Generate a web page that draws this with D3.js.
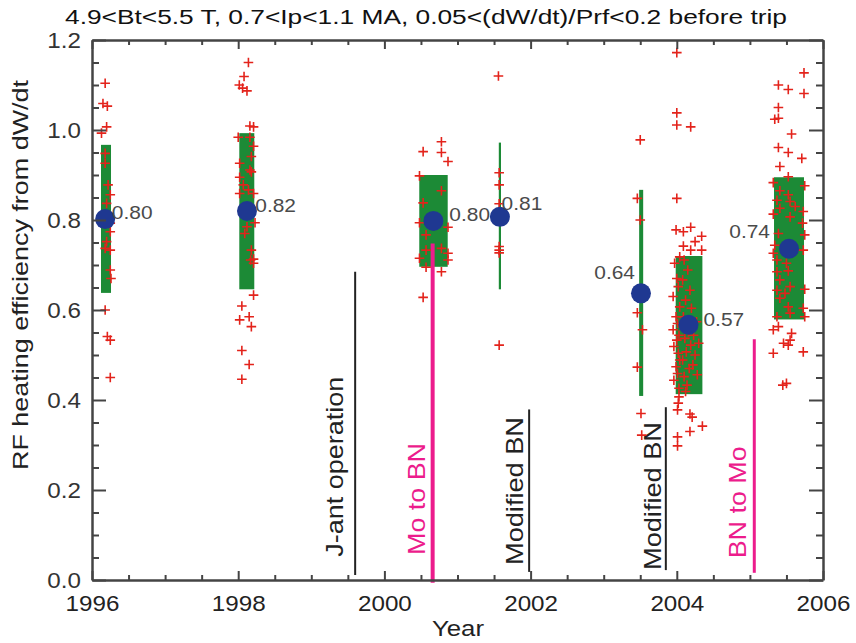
<!DOCTYPE html>
<html><head><meta charset="utf-8">
<script src="https://cdn.jsdelivr.net/npm/d3@7"></script>
<style>body{margin:0;background:#fff}svg{display:block}text{font-family:"Liberation Sans",Arial,sans-serif}</style>
</head><body><svg id="c" width="856" height="643"></svg>
<script>
// ---- data ----
const titleText = "4.9<Bt<5.5 T, 0.7<Ip<1.1 MA, 0.05<(dW/dt)/Prf<0.2 before trip";
const xLabel = "Year";
const yLabel = "RF heating efficiency from dW/dt";
const xTickLabels = [1996, 1998, 2000, 2002, 2004, 2006];
const yTickLabels = [0.0, 0.2, 0.4, 0.6, 0.8, 1.0, 1.2];

const groupYear = [1996.18, 1998.12, 2000.67, 2001.58, 2003.51, 2004.16, 2005.535];
const groupMean = [0.802, 0.820, 0.798, 0.807, 0.637, 0.567, 0.736];
const groupStart = [1996.123, 1998.015, 2000.477, 2001.565, 2003.485, 2003.985, 2005.33];
const groupEnd   = [1996.26, 1998.22, 2000.866, 2001.595, 2003.54, 2004.35, 2005.74];
const groupLow  = [0.638, 0.646, 0.696, 0.646, 0.409, 0.413, 0.579];
const groupHigh = [0.967, 0.993, 0.900, 0.972, 0.867, 0.720, 0.895];

const pts1996 = [[1996.18,1.104],[1996.15,1.059],[1996.21,1.053],[1996.20,1.007],[1996.13,0.993],[1996.18,0.948],[1996.18,0.926],[1996.22,0.878],[1996.25,0.856],[1996.20,0.837],[1996.25,0.793],[1996.25,0.774],[1996.20,0.752],[1996.18,0.737],[1996.25,0.733],[1996.25,0.689],[1996.26,0.670],[1996.18,0.600],[1996.21,0.541],[1996.25,0.533],[1996.25,0.450]];
const pts1998 = [[1998.14,1.150],[1998.08,1.119],[1998.015,1.100],[1998.06,1.093],[1998.12,1.087],[1998.16,1.009],[1998.21,1.007],[1998.00,0.984],[1998.16,0.984],[1998.21,0.964],[1998.18,0.941],[1998.02,0.926],[1998.16,0.911],[1998.18,0.907],[1998.02,0.895],[1998.07,0.878],[1998.02,0.859],[1998.14,0.867],[1998.21,0.859],[1998.23,0.794],[1998.12,0.785],[1998.09,0.770],[1998.18,0.733],[1998.21,0.713],[1998.17,0.711],[1998.21,0.704],[1998.21,0.633],[1998.05,0.609],[1998.15,0.585],[1998.02,0.578],[1998.18,0.563],[1998.05,0.510],[1998.15,0.479],[1998.05,0.446]];
const pts2000 = [[2000.78,0.974],[2000.53,0.952],[2000.78,0.950],[2000.87,0.930],[2000.48,0.898],[2000.78,0.865],[2000.53,0.838],[2000.48,0.794],[2000.87,0.784],[2000.57,0.767],[2000.57,0.733],[2000.78,0.737],[2000.87,0.726],[2000.48,0.715],[2000.87,0.711],[2000.57,0.695],[2000.78,0.685],[2000.53,0.628]];
const pts2001 = [[2001.56,1.120],[2001.57,0.905],[2001.57,0.878],[2001.57,0.836],[2001.57,0.741],[2001.57,0.733],[2001.57,0.727],[2001.57,0.522]];
const pts2003 = [[2003.50,0.978],[2003.46,0.848],[2003.50,0.800],[2003.46,0.594],[2003.53,0.556],[2003.46,0.473],[2003.51,0.370],[2003.52,0.322]];
const pts2004 = [[2004.00,1.172],[2004.00,1.038],[2004.00,1.011],[2004.19,1.007],[2004.00,0.848],[2003.99,0.778],[2004.19,0.784],[2004.09,0.774],[2004.34,0.764],[2004.25,0.752],[2004.09,0.742],[2004.19,0.733],[2004.34,0.733],[2004.04,0.718],
 [2003.97,0.704],[2004.00,0.670],[2004.02,0.652],[2003.95,0.630],[2004.04,0.607],[2003.99,0.585],[2004.01,0.570],[2003.95,0.556],[2004.03,0.544],[2004.00,0.533],[2003.96,0.519],[2004.02,0.504],[2004.04,0.489],[2003.99,0.474],[2004.01,0.459],[2003.96,0.444],[2004.03,0.426],
 [2004.10,0.711],[2004.15,0.689],[2004.08,0.667],[2004.18,0.644],[2004.12,0.622],[2004.20,0.604],[2004.09,0.585],[2004.16,0.552],[2004.11,0.537],[2004.19,0.522],[2004.13,0.507],[2004.08,0.489],[2004.17,0.470],[2004.10,0.452],[2004.14,0.433],[2004.12,0.419],
 [2004.27,0.574],[2004.23,0.544],[2004.30,0.526],[2004.25,0.500],[2004.22,0.478],[2004.28,0.456],
 [2004.03,0.407],[2004.02,0.393],[2004.01,0.378],[2004.18,0.369],[2004.21,0.362],[2004.35,0.342],[2004.18,0.330],[2004.01,0.318],[2004.01,0.298]];
const pts2005 = [[2005.74,1.127],[2005.39,1.100],[2005.525,1.090],[2005.74,1.081],[2005.39,1.050],[2005.34,1.024],[2005.39,1.026],[2005.57,0.991],[2005.39,0.961],[2005.525,0.950],[2005.71,0.937],[2005.41,0.919],[2005.32,0.883],[2005.525,0.896],[2005.75,0.876],[2005.41,0.865],[2005.525,0.856],[2005.37,0.844],[2005.55,0.841],[2005.62,0.830],[2005.41,0.826],[2005.73,0.819],[2005.32,0.813],[2005.55,0.807],[2005.72,0.793],[2005.39,0.770],[2005.75,0.767],[2005.34,0.744],[2005.73,0.733],[2005.32,0.726],[2005.37,0.711],[2005.50,0.704],[2005.37,0.685],[2005.525,0.687],[2005.41,0.667],[2005.55,0.652],[2005.75,0.646],[2005.37,0.644],[2005.48,0.637],[2005.41,0.626],[2005.525,0.607],[2005.73,0.604],[2005.37,0.585],[2005.55,0.593],[2005.75,0.585],[2005.39,0.563],[2005.32,0.556],[2005.57,0.548],[2005.46,0.526],[2005.525,0.522],[2005.55,0.533],[2005.32,0.504],[2005.73,0.507],[2005.45,0.433],[2005.50,0.437]];

const annotYear = [1999.60, 2000.66, 2001.98, 2003.85, 2005.06];
const annotTop = [0.685, 0.748, 0.379, 0.384, 0.535];
const annotBottom = [0.011, -0.006, 0.018, 0.022, 0.016];
const annotText = ["J-ant operation", "Mo to BN", "Modified BN", "Modified BN", "BN to Mo"];

// ---- layout / style ----
const BLACK = "#222", MAGENTA = "#ec1c8c", GREEN = "#1c8a36", BLUE = "#1f3891", RED = "#e3231b";
const annotColor = [BLACK, MAGENTA, BLACK, BLACK, MAGENTA];
const annotWidth = [2, 4, 2, 2, 3];
const annotTextDx = [-12, -8, -6.3, -4.5, -7.8];
const annotTextStartY = [556.7, 555, 565, 570, 558.3];
const annotTextLen = [180, 112, 148, 148, 112];
const labelOffsets = [[6.7,0.2,"start"],[8.3,0.7,"start"],[16,-0.3,"start"],[1.7,-6.7,"start"],[-6,-14,"end"],[15,1,"start"],[-19,-11,"end"]];

const svg = d3.select("#c");
const x = d3.scaleLinear().domain([1996, 2006]).range([92, 823]);
const y = d3.scaleLinear().domain([0, 1.2]).range([580, 40]);

function stretch(sel, f) {
  sel.each(function () {
    const L = this.getComputedTextLength();
    this.setAttribute("textLength", L * f);
    this.setAttribute("lengthAdjust", "spacingAndGlyphs");
  });
}

// bars
const gBars = svg.append("g");
groupYear.forEach((g, i) => {
  gBars.append("rect")
    .attr("x", x(groupStart[i])).attr("width", x(groupEnd[i]) - x(groupStart[i]))
    .attr("y", y(groupHigh[i])).attr("height", y(groupLow[i]) - y(groupHigh[i]))
    .attr("fill", GREEN);
});

// annotation lines + texts
annotYear.forEach((a, i) => {
  svg.append("line")
    .attr("x1", x(a)).attr("x2", x(a))
    .attr("y1", y(annotTop[i])).attr("y2", y(annotBottom[i]))
    .attr("stroke", annotColor[i]).attr("stroke-width", annotWidth[i]);
  const tx = x(a) + annotTextDx[i], ty = annotTextStartY[i];
  svg.append("text")
    .attr("transform", `translate(${tx},${ty}) rotate(-90)`)
    .attr("font-size", 24).attr("fill", annotColor[i])
    .attr("textLength", annotTextLen[i]).attr("lengthAdjust", "spacingAndGlyphs")
    .text(annotText[i]);
});

// points
const allPts = [pts1996, pts1998, pts2000, pts2001, pts2003, pts2004, pts2005];
const gPts = svg.append("g").attr("stroke", RED).attr("stroke-width", 1.6).attr("fill", "none");
allPts.forEach(arr => {
  arr.forEach(p => {
    const cx = x(p[0]), cy = y(p[1]);
    gPts.append("path").attr("d", `M${cx - 4.8},${cy}H${cx + 4.8}M${cx},${cy - 4.8}V${cy + 4.8}`);
  });
});

// means
groupYear.forEach((g, i) => {
  svg.append("circle").attr("cx", x(g)).attr("cy", y(groupMean[i])).attr("r", 10).attr("fill", BLUE);
});
const vl = svg.append("g");
groupYear.forEach((g, i) => {
  const o = labelOffsets[i];
  vl.append("text").attr("x", x(g) + o[0]).attr("y", y(groupMean[i]) + o[1])
    .attr("text-anchor", o[2]).attr("font-size", 18.5).attr("fill", "#4a4a4a")
    .text(groupMean[i].toFixed(2));
});
stretch(vl.selectAll("text"), 1.13);

// axes
const minorX = d3.range(1996, 2006.01, 0.5).filter(v => Math.abs(v % 2) > 1e-6 && Math.abs((v % 2) - 2) > 1e-6);
const minorY = d3.range(0, 1.2001, 0.05).map(v => +v.toFixed(2)).filter(v => Math.round(v * 100) % 20 !== 0);
const axColor = "#444";

function styleAxis(g) {
  g.selectAll(".domain").attr("stroke", axColor).attr("stroke-width", 2.5);
  g.selectAll(".tick line").attr("stroke", axColor).attr("stroke-width", 2);
}
const axBottom = svg.append("g").attr("transform", "translate(0,580)")
  .call(d3.axisBottom(x).tickValues(xTickLabels).tickSize(-9).tickSizeOuter(0).tickPadding(15).tickFormat(d3.format("d")));
styleAxis(axBottom);
axBottom.selectAll("text").attr("font-size", 22).attr("fill", "#222").attr("font-family", '"Liberation Sans",Arial,sans-serif');
stretch(axBottom.selectAll("text"), 1.1);
const axBottomMinor = svg.append("g").attr("transform", "translate(0,580)")
  .call(d3.axisBottom(x).tickValues(minorX).tickSize(-5).tickFormat(""));
axBottomMinor.select(".domain").remove(); styleAxis(axBottomMinor);

const axTop = svg.append("g").attr("transform", "translate(0,40)")
  .call(d3.axisTop(x).tickValues(xTickLabels).tickSize(-9).tickSizeOuter(0).tickFormat(""));
styleAxis(axTop);
const axTopMinor = svg.append("g").attr("transform", "translate(0,40)")
  .call(d3.axisTop(x).tickValues(minorX).tickSize(-5).tickFormat(""));
axTopMinor.select(".domain").remove(); styleAxis(axTopMinor);

const axLeft = svg.append("g").attr("transform", "translate(92,0)")
  .call(d3.axisLeft(y).tickValues(yTickLabels).tickSize(-14).tickSizeOuter(0).tickPadding(11).tickFormat(d3.format(".1f")));
styleAxis(axLeft);
axLeft.selectAll("text").attr("font-size", 22).attr("fill", "#333").attr("font-family", '"Liberation Sans",Arial,sans-serif');
stretch(axLeft.selectAll("text"), 1.1);
const axLeftMinor = svg.append("g").attr("transform", "translate(92,0)")
  .call(d3.axisLeft(y).tickValues(minorY).tickSize(-7).tickFormat(""));
axLeftMinor.select(".domain").remove(); styleAxis(axLeftMinor);

const axRight = svg.append("g").attr("transform", "translate(823,0)")
  .call(d3.axisRight(y).tickValues(yTickLabels).tickSize(-14).tickSizeOuter(0).tickFormat(""));
styleAxis(axRight);
const axRightMinor = svg.append("g").attr("transform", "translate(823,0)")
  .call(d3.axisRight(y).tickValues(minorY).tickSize(-7).tickFormat(""));
axRightMinor.select(".domain").remove(); styleAxis(axRightMinor);

// titles
svg.append("text").attr("x", 426).attr("y", 24).attr("text-anchor", "middle")
  .attr("font-size", 20).attr("fill", "#111")
  .attr("textLength", 722).attr("lengthAdjust", "spacingAndGlyphs").text(titleText);
svg.append("text").attr("x", 458).attr("y", 636).attr("text-anchor", "middle")
  .attr("font-size", 22).attr("fill", "#222").attr("textLength", 52).attr("lengthAdjust", "spacingAndGlyphs").text(xLabel);
svg.append("text").attr("transform", "translate(28,275) rotate(-90)").attr("text-anchor", "middle")
  .attr("font-size", 22).attr("fill", "#222").attr("textLength", 390).attr("lengthAdjust", "spacingAndGlyphs").text(yLabel);
</script></body></html>
